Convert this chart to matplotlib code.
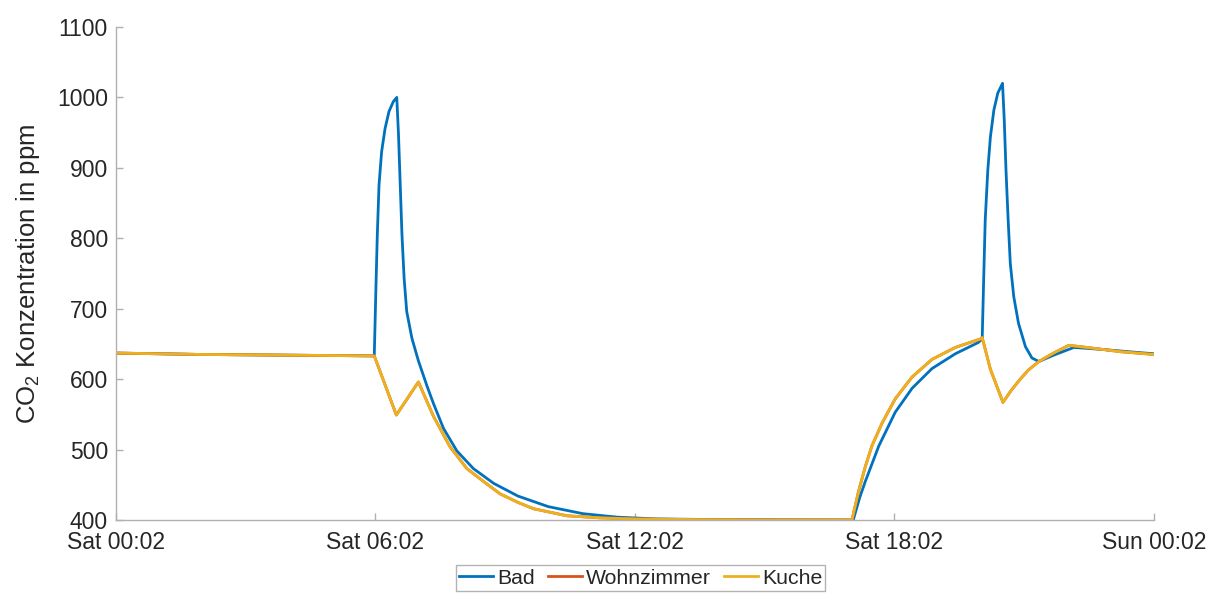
from datetime import datetime, timedelta

import matplotlib
matplotlib.use("Agg")
import matplotlib.dates as mdates
import matplotlib.pyplot as plt

plt.rcParams["font.family"] = ["Liberation Sans", "DejaVu Sans"]
plt.rcParams["mathtext.fontset"] = "custom"
plt.rcParams["mathtext.rm"] = "Liberation Sans"
plt.rcParams["mathtext.it"] = "Liberation Sans:italic"

# Stunden ab Sat 00:02
bad_h = [0, 2, 4, 5.98, 6.02, 6.05, 6.09, 6.15, 6.23, 6.32, 6.42, 6.50,
         6.54, 6.58, 6.62, 6.67, 6.73, 6.85, 7.0, 7.2, 7.35, 7.58, 7.89,
         8.27, 8.74, 9.3, 10.0, 10.8, 11.6, 12.5, 14, 17.05, 17.2, 17.33,
         17.64, 18.02, 18.41, 18.87, 19.41, 19.94, 20.03, 20.07, 20.1, 20.16,
         20.22, 20.3, 20.39, 20.5, 20.54, 20.58, 20.63, 20.68, 20.76, 20.87,
         21.03, 21.18, 21.34, 21.68, 22.15, 22.84, 23.4, 24]
bad_ppm = [637, 635, 634, 633, 734, 805, 876, 923, 956, 980, 994, 1000,
           947, 876, 805, 743, 696, 658, 626, 590, 565, 530, 498,
           473, 452, 434, 419, 409, 404, 401.5, 400.5, 400, 432, 455,
           505, 553, 587, 615, 636, 652, 657, 755, 826, 897,
           944, 982, 1006, 1020, 968, 897, 826, 764, 717, 679,
           646, 630, 625, 634, 645, 642, 639, 636]

kuche_h = [0, 2, 4, 5.98, 6.49, 7.0, 7.35, 7.73, 8.12, 8.5, 8.89, 9.3, 9.66,
           10.43, 11.2, 12.0, 13.5, 15, 17.02, 17.17, 17.33, 17.48, 17.72,
           18.02, 18.41, 18.87, 19.41, 19.99, 20.03, 20.22, 20.51, 20.7, 20.91,
           21.1, 21.34, 21.68, 22.03, 22.45, 23.22, 24]
kuche_ppm = [637, 635, 634, 633, 549, 596, 547, 504, 473, 455, 437, 425, 416,
             406, 403, 401.5, 400.5, 400, 400, 440, 476, 505, 538,
             572, 603, 628, 645, 657, 659, 614, 567, 584, 600,
             613, 625, 637, 648, 645, 639, 635]

# Wohnzimmer liegt genau unter Kuche
wohn_h = kuche_h
wohn_ppm = kuche_ppm

tick_h = [0, 6, 12, 18, 24]

start = datetime(2021, 1, 2, 0, 2)  # ein Samstag


def to_time(hours):
    return [start + timedelta(hours=h) for h in hours]


fig = plt.figure(figsize=(12.11, 5.94), dpi=100)
ax = fig.add_axes([0.0954, 0.1246, 0.8575, 0.8300])

ax.plot(to_time(bad_h), bad_ppm, color="#0072BD", lw=2.0, label="Bad")
ax.plot(to_time(wohn_h), wohn_ppm, color="#D95319", lw=2.0, label="Wohnzimmer")
ax.plot(to_time(kuche_h), kuche_ppm, color="#EDB120", lw=2.0, label="Kuche")

ax.set_xlim(start, start + timedelta(hours=24))
ax.set_ylim(400, 1100)
ax.set_xticks(to_time(tick_h))
ax.xaxis.set_major_formatter(mdates.DateFormatter("%a %H:%M"))
ax.set_yticks(range(400, 1101, 100))

for side in ("top", "right"):
    ax.spines[side].set_visible(False)
for side in ("left", "bottom"):
    ax.spines[side].set_color("#b0b0b0")
    ax.spines[side].set_linewidth(1.0)
ax.tick_params(direction="in", length=5, width=1, color="#b0b0b0",
               labelcolor="#262626", labelsize=16.5)
ax.tick_params(axis="y", pad=5.5)
ax.tick_params(axis="x", pad=8)

ax.set_ylabel("CO$_2$ Konzentration in ppm", fontsize=18.5, color="#262626")
ax.yaxis.set_label_coords(-0.071, 0.5)

leg = fig.legend(loc="upper center", bbox_to_anchor=(0.529, 0.048), ncol=3,
                 fontsize=15.3, frameon=True, fancybox=False, handlelength=1.6,
                 handletextpad=0.2, columnspacing=0.6, borderpad=0.15,
                 borderaxespad=0)
leg.get_frame().set_edgecolor("#a0a0a0")
leg.get_frame().set_linewidth(1.0)
for txt in leg.get_texts():
    txt.set_color("#262626")

fig.savefig("out.png", dpi=100)
